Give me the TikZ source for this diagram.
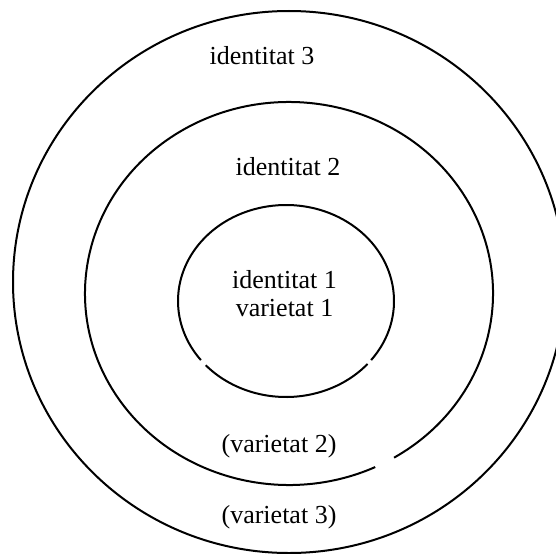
\documentclass[tikz,border=0pt]{standalone}
\usepackage{fontspec}
\setmainfont{Liberation Serif}
\usepackage{tikz}
\usetikzlibrary{positioning,calc}
\tikzset{
  ring/.style={draw=black,line width=1pt},
  lbl/.style={inner sep=1pt,align=center,font=\fontsize{13}{14}\selectfont},
}

\begin{document}
\begin{tikzpicture}[x=0.5pt,y=0.5pt]
  \useasboundingbox (0,0) rectangle (556,553);
  \clip (0,0) rectangle (556,553);
  % centres of the three rings
  \coordinate (c3) at (289,271);
  \coordinate (c2) at (289,259.5);
  \coordinate (c1) at (286,252);
  % outer ring
  \draw[ring] (c3) ellipse[x radius=276,y radius=271];
  % middle ring, open near the bottom right
  \draw[ring] ($(c2)+(-59:204 and 191.5)$) arc[start angle=-59,end angle=295,x radius=204,y radius=191.5];
  % inner ring, two small breaks
  \draw[ring] ($(c1)+(-38:108 and 96)$) arc[start angle=-38,end angle=218,x radius=108,y radius=96];
  \draw[ring] ($(c1)+(222:108 and 96)$) arc[start angle=222,end angle=319,x radius=108,y radius=96];
  % labels
  \node[lbl] (id3) at (262,497) {identitat 3};
  \node[lbl] (id2) at (288,386) {identitat 2};
  \node[lbl] (id1) at (284.5,259) {identitat 1\\varietat 1};
  \node[lbl] (var2) at (279,107) {(varietat 2)};
  \node[lbl] (var3) at (279,36) {(varietat 3)};
\end{tikzpicture}
\end{document}
